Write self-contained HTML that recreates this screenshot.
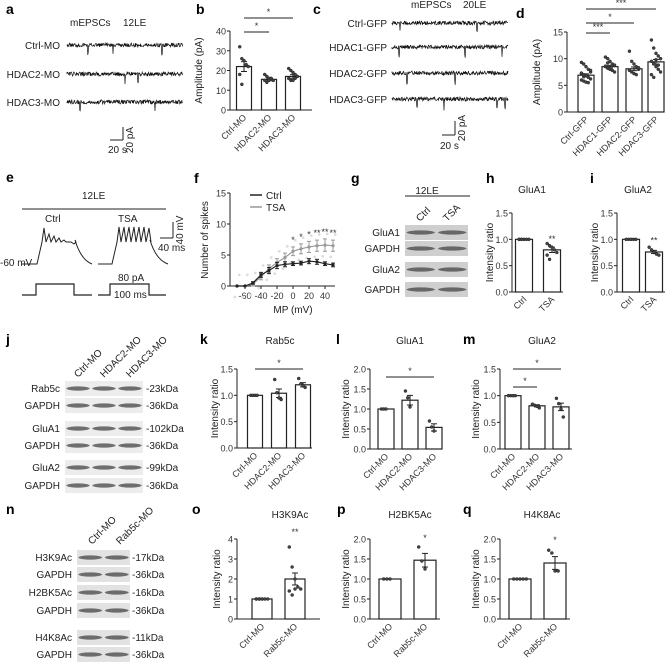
<!DOCTYPE html>
<html><head><meta charset="utf-8"><style>
body{margin:0;background:#fff}
svg{display:block;font-family:"Liberation Sans",Arial,sans-serif}
.pl{font-size:14px;font-weight:bold}
.t{font-size:10px;fill:#222}
.tk{font-size:9px;fill:#333}
</style></head><body>
<svg id="fig" width="667" height="663" viewBox="0 0 667 663"></svg>
<script>
// ---- chart data ----
const bCats=["Ctrl-MO","HDAC2-MO","HDAC3-MO"], bVals=[22,15.5,17], bErr=[2.5,0.7,0.9];
const bPts=[[32,26,25,23,22,18,13],[18,17,16,16,15,15,14,15,16],[21,20,19,18,17,16,15,15,16,17]];
const dCats=["Ctrl-GFP","HDAC1-GFP","HDAC2-GFP","HDAC3-GFP"], dVals=[6.9,8.5,8.1,9.4], dErr=[0.25,0.25,0.35,0.45];
const dPts=[[9.3,9,8.5,8,7.5,7.2,7,6.8,6.5,6.2,6,5.8,5.6,5.5,7.8,7.3,6.6],[10.3,10,9.5,9,8.8,8.5,8.2,8,7.8,7.5,8.6,9.2],[11.4,9.5,9,8.5,8,7.8,7.5,7.2,7,8.3],[13.5,12,11,10.5,10,9.5,9,8.5,8,7.5,7,6.5,9.8,8.8]];
const fX=[-70,-60,-50,-40,-30,-20,-10,0,10,20,30,40,50];
const fCtrl=[0,0,0.5,1.8,2.5,3.3,3.5,3.6,3.7,4.0,3.9,3.6,3.4];
const fCtrlErr=[0,0,0.2,0.4,0.5,0.5,0.4,0.3,0.3,0.4,0.4,0.3,0.3];
const fTSA=[0,0,0.3,1.5,2.8,3.8,4.6,5.6,6.0,6.3,6.5,6.6,6.5];
const fTSAErr=[0,0,0.3,0.5,0.6,0.6,0.7,0.7,0.8,0.9,0.9,1.0,0.9];
const fStars=["","","","","","","","*","*","*","**","**","**"];
const hCats=["Ctrl","TSA"], hVals=[1.0,0.8], hErr=[0,0.05], hPts=[[1,1,1,1,1,1,1],[0.92,0.88,0.85,0.8,0.75,0.7,0.62]];
const iCats=["Ctrl","TSA"], iVals=[1.0,0.76], iErr=[0,0.03], iPts=[[1,1,1,1,1],[0.85,0.8,0.76,0.72,0.7]];
const kCats=["Ctrl-MO","HDAC2-MO","HDAC3-MO"], kVals=[1.0,1.04,1.2], kErr=[0,0.08,0.04], kPts=[[1,1,1,1],[1.3,1.05,0.95,0.92],[1.32,1.22,1.18,1.15]];
const lCats=["Ctrl-MO","HDAC2-MO","HDAC3-MO"], lVals=[1.0,1.22,0.54], lErr=[0,0.12,0.09], lPts=[[1,1,1],[1.45,1.28,1.05],[0.7,0.55,0.45]];
const mCats=["Ctrl-MO","HDAC2-MO","HDAC3-MO"], mVals=[1.0,0.81,0.79], mErr=[0,0.02,0.07], mPts=[[1,1,1,1],[0.84,0.82,0.8,0.77],[0.95,0.85,0.75,0.6]];
const oCats=["Ctrl-MO","Rab5c-MO"], oVals=[1.0,2.0], oErr=[0,0.3], oPts=[[1,1,1,1,1,1,1,1],[3.6,2.6,2.0,1.6,1.5,1.4,1.2,1.5]];
const pCats=["Ctrl-MO","Rab5c-MO"], pVals=[1.0,1.47], pErr=[0,0.17], pPts=[[1,1,1],[1.8,1.45,1.25]];
const qCats=["Ctrl-MO","Rab5c-MO"], qVals=[1.0,1.4], qErr=[0,0.16], qPts=[[1,1,1,1,1],[1.72,1.65,1.2,1.2]];

const S=document.getElementById('fig'),NS="http://www.w3.org/2000/svg";
function el(tag,at,txt,parent){const e=document.createElementNS(NS,tag);for(const k in at)e.setAttribute(k,at[k]);if(txt!=null)e.textContent=txt;(parent||S).appendChild(e);return e;}
function txt(x,y,s,cls,name,extra){const e=el('text',Object.assign({x:x,y:y,class:cls},extra||{}),s);


return e;}
function line(x1,y1,x2,y2,w,c){return el('line',{x1,y1,x2,y2,stroke:c||'#222','stroke-width':w||1});}

function barChart(c){
  const g=el('g',{});
  
  
  const ys=v=>c.y0-(v/c.ymax)*(c.y0-c.ytop);
  el('line',{x1:c.ax,y1:c.ytop,x2:c.ax,y2:c.y0,stroke:'#222'},null,g);
  el('line',{x1:c.ax,y1:c.y0,x2:c.xend,y2:c.y0,stroke:'#222'},null,g);
  c.ticks.forEach(t=>{const y=ys(t);el('line',{x1:c.ax-3,y1:y,x2:c.ax,y2:y,stroke:'#222'},null,g);
    const tl=el('text',{x:c.ax-4,y:y+3.5,'text-anchor':'end',class:'tk'},c.fmt?t.toFixed(1):String(t),g);
    
    });
  c.vals.forEach((v,i)=>{const cx=c.centers[i],y=ys(v);
    const r=el('rect',{x:cx-c.bw/2,y:y,width:c.bw,height:c.y0-y,fill:'#fff',stroke:'#222','stroke-width':1.2},null,g);
    
    
    const e=c.errs[i];if(e>0){el('line',{x1:cx,y1:ys(v+e),x2:cx,y2:ys(v-e),stroke:'#222'},null,g);
      el('line',{x1:cx-3,y1:ys(v+e),x2:cx+3,y2:ys(v+e),stroke:'#222'},null,g);el('line',{x1:cx-3,y1:ys(v-e),x2:cx+3,y2:ys(v-e),stroke:'#222'},null,g);}
    const pts=c.pts[i];pts.forEach((p,j)=>{const off=((j%5)-2)*c.bw/7;
      const d=el('circle',{cx:cx+off,cy:ys(p),r:1.5,fill:'#444',stroke:'#222','stroke-width':0.5},null,g);
      
      });
    const lb=el('text',{x:cx+3,y:c.y0+8,'text-anchor':'end',class:'tk',transform:`rotate(-45 ${cx+3} ${c.y0+8})`},c.cats[i],g);
    
    
  });
  (c.sig||[]).forEach(s=>{const y=s[3];el('line',{x1:c.centers[s[0]],y1:y,x2:c.centers[s[1]],y2:y,stroke:'#222'},null,g);
    el('text',{x:(c.centers[s[0]]+c.centers[s[1]])/2,y:y-3,'text-anchor':'middle',class:'tk','font-size':'8'},s[2],g);});
  (c.stars||[]).forEach(s=>{el('text',{x:c.centers[s[0]],y:ys(s[1]),'text-anchor':'middle',class:'tk','font-size':'8'},s[2],g);});
  const yl=c.ylx-3, ym=(c.ytop+c.y0)/2;
  const yt=el('text',{x:yl,y:ym,'text-anchor':'middle',class:'t',transform:`rotate(-90 ${yl} ${ym})`},c.ylabel,g);
  
  
  if(c.title){const tt=el('text',{x:c.tx,y:c.ty,'text-anchor':'middle',class:'t'},c.title,g);
    
    }
}

// panel letters
[["a",6,14],["b",196,14],["c",313,14],["d",516,18],["e",6,182],["f",194,183],["g",351,183],["h",486,183],["i",590,183],["j",6,344],["k",200,344],["l",336,344],["m",463,344],["n",6,514],["o",192,514],["p",337,514],["q",463,514]].forEach(p=>{
  const t=txt(p[1],p[2],p[0],'pl','panel-label-'+p[0]);
});

// traces
function trace(x1,x2,y,seed,big,name){
  let d=`M${x1} ${y}`;let s=seed;
  for(let x=x1;x<=x2;x+=0.4){s=(s*9301+49297)%233280;let r=s/233280;let v=(r-0.5)*4;
    if(big.some(b=>Math.abs(b-x)<0.3))v=7+r*5; d+=` L${x.toFixed(1)} ${(y+v).toFixed(1)}`;}
  const p=el('path',{d:d,fill:'none',stroke:'#111','stroke-width':0.7});
  
  
}
txt(70,26,"mEPSCs",'t','trace-title-a');txt(123,26,"12LE",'t','trace-title-a-age');
[["Ctrl-MO",45,[88,113,162]],["HDAC2-MO",74,[125,138]],["HDAC3-MO",102,[80,155]]].forEach((r,i)=>{
  txt(60,r[1]+4,r[0],'t','trace-label',{'text-anchor':'end'});trace(67,183,r[1],i*17+5,r[2],'trace-'+r[0].toLowerCase());});
line(110,140,123,140);line(123,127,123,140);txt(108,153,"20 s",'t','scale-time');
txt(133,140,"20 pA",'t','scale-amplitude',{transform:'rotate(-90 133 140)','text-anchor':'middle'});

txt(411,8,"mEPSCs",'t','trace-title-c');txt(463,8,"20LE",'t','trace-title-c-age');
[["Ctrl-GFP",23,[400,477]],["HDAC1-GFP",47,[399,465,502]],["HDAC2-GFP",73,[407,455]],["HDAC3-GFP",99,[417,444,497,505]]].forEach((r,i)=>{
  txt(387,r[1]+4,r[0],'t','trace-label',{'text-anchor':'end'});trace(392,508,r[1],i*31+11,r[2],'trace-'+r[0].toLowerCase());});
line(442,135,455,135);line(455,121,455,135);txt(440,149,"20 s",'t','scale-time');
txt(465,128,"20 pA",'t','scale-amplitude',{transform:'rotate(-90 465 128)','text-anchor':'middle'});

barChart({name:'chart-b',ax:230,y0:110,ytop:31,ymax:40,ticks:[0,10,20,30,40],xend:312,centers:[244,269,293],bw:15,
  cats:bCats,vals:bVals,errs:bErr,pts:bPts,ylabel:"Amplitude (pA)",ylx:205,sig:[[0,1,"*",32],[0,2,"*",18]]});
barChart({name:'chart-d',ax:567,y0:112,ytop:32,ymax:15,ticks:[0,5,10,15],xend:664,centers:[586,610,634,656],bw:16,
  cats:dCats,vals:dVals,errs:dErr,pts:dPts,ylabel:"Amplitude (pA)",ylx:543,sig:[[0,1,"***",33],[0,2,"*",23],[0,3,"***",9]]});

// panel e
txt(82,199,"12LE",'t','condition-12le');line(22,209,166,209);
txt(45,222,"Ctrl",'t','trace-ctrl-label');txt(118,222,"TSA",'t','trace-tsa-label');
txt(0,266,"-60 mV",'t','resting-potential');
function ap(x0,x1,x2,x3,base,spk,name){let d=`M${x0} ${base} L${x1} ${base} L${x1+5} ${base-22}`;let x=x1+5;
  spk.forEach(h=>{d+=` L${x+2} ${base-h} L${x+4} ${base-22}`;x+=5;});
  d+=` L${x2} ${base-24} Q${x2+6} ${base-4} ${x3} ${base}`;
  const p=el('path',{d,fill:'none',stroke:'#222','stroke-width':1});
  
  }
ap(22,37,75,92,264,[36,30,28,26,24,22,20],'ap-trace-ctrl');
ap(98,112,150,168,264,[37,37,37,37,37,37,36],'ap-trace-tsa');
line(173,222,173,238);line(160,238,173,238);txt(158,251,"40 ms",'t','scale-ms');
txt(183,230,"40 mV",'t','scale-mv',{transform:'rotate(-90 183 230)','text-anchor':'middle'});
el('path',{d:'M22 295 L36 295 L36 284 L74 284 L74 295 L92 295',fill:'none',stroke:'#222','stroke-width':1.2});
el('path',{d:'M98 295 L110 295 L110 284 L149 284 L149 295 L166 295',fill:'none',stroke:'#222','stroke-width':1.2});
txt(118,281,"80 pA",'t','current-label');txt(114,298,"100 ms",'t','duration-label');

// panel f
(function(){
  const ax=230,y0=286,yt=193,xs=v=>293+v*0.8,ys=v=>y0-v/15*(y0-yt);
  line(ax,yt,ax,y0);line(ax,y0,335,y0);
  [0,5,10,15].forEach(t=>{line(ax-3,ys(t),ax,ys(t));txt(ax-4,ys(t)+3.5,String(t),'tk','y-tick-label',{'text-anchor':'end'});});
  [-60,-40,-20,0,20,40].forEach(t=>{line(xs(t),y0,xs(t),y0+3);txt(xs(t),y0+13,String(t),'tk','x-tick-label',{'text-anchor':'middle'});});
  txt(293,313,"MP (mV)",'t','x-axis-title',{'text-anchor':'middle'});
  txt(208,240,"Number of spikes",'t','y-axis-title',{transform:'rotate(-90 208 240)','text-anchor':'middle'});
  fX.forEach((x,i)=>{[-1.5,0,1.5].forEach(o=>{const c=el('circle',{cx:xs(x)+o*1.5,cy:ys(fTSA[i]+o*1.2),r:1.4,fill:'#ddd'});});});
  [[fTSA,fTSAErr,'#999','series-tsa'],[fCtrl,fCtrlErr,'#222','series-ctrl']].forEach(s=>{
    const p=el('path',{d:fX.map((x,i)=>(i?'L':'M')+xs(x)+' '+ys(s[0][i])).join(' '),fill:'none',stroke:s[2],'stroke-width':1.2});
    
    
    fX.forEach((x,i)=>{const v=s[0][i],e=s[1][i];line(xs(x),ys(v+e),xs(x),ys(v-e),1,s[2]);line(xs(x)-2,ys(v+e),xs(x)+2,ys(v+e),1,s[2]);line(xs(x)-2,ys(v-e),xs(x)+2,ys(v-e),1,s[2]);
      const m=el('circle',{cx:xs(x),cy:ys(v),r:1.6,fill:s[2]});});
  });
  fX.forEach((x,i)=>{if(fStars[i])txt(xs(x),ys(fTSA[i]+fTSAErr[i])-4,fStars[i],'tk','significance-star',{'text-anchor':'middle','font-size':'7'});});
  line(250,195,262,195,1.5,'#222');txt(266,199,"Ctrl",'t','legend-ctrl');
  line(250,207,262,207,1.5,'#999');txt(266,211,"TSA",'t','legend-tsa');
})();

// blots
function blot(x,y,w,h,names,nb,bg,dark){const g=el('g',{});
  
  
  el('rect',{x,y,width:w,height:h,fill:bg||'#e6e6e6'},null,g);
  for(let i=0;i<nb;i++){const cx=x+w*(i+0.5)/nb;el('ellipse',{cx,cy:y+h/2,rx:w/nb*0.45,ry:h*0.14,fill:'#444','fill-opacity':dark||0.75},null,g);}}
txt(427,194,"12LE",'t','blot-title',{'text-anchor':'middle'});line(405,196,470,196);
txt(420,222,"Ctrl",'t','lane-label',{transform:'rotate(-45 420 222)'});txt(447,222,"TSA",'t','lane-label',{transform:'rotate(-45 447 222)'});
[["GluA1",225],["GAPDH",241],["GluA2",262],["GAPDH",282]].forEach(r=>{blot(405,r[1],63,15,'blot-'+r[0].toLowerCase(),2,'#cfcfcf');txt(400,r[1]+11,r[0],'t','blot-label',{'text-anchor':'end'});});

barChart({name:'chart-h',ax:512,y0:292,ytop:213,ymax:1.5,fmt:1,ticks:[0,0.5,1,1.5],xend:563,centers:[524,552],bw:17,
  cats:hCats,vals:hVals,errs:hErr,pts:hPts,ylabel:"Intensity ratio",ylx:496,title:"GluA1",tx:532,ty:193,stars:[[1,0.95,"**"]]});
barChart({name:'chart-i',ax:617,y0:292,ytop:213,ymax:1.5,fmt:1,ticks:[0,0.5,1,1.5],xend:665,centers:[631,654],bw:17,
  cats:iCats,vals:iVals,errs:iErr,pts:iPts,ylabel:"Intensity ratio",ylx:601,title:"GluA2",tx:638,ty:193,stars:[[1,0.92,"**"]]});

// panel j
["Ctrl-MO","HDAC2-MO","HDAC3-MO"].forEach((s,i)=>{const x=78+i*26,y=378;txt(x,y,s,'t','lane-label',{transform:`rotate(-45 ${x} ${y})`});});
[["Rab5c",381,"-23kDa"],["GAPDH",398,"-36kDa"],["GluA1",421,"-102kDa"],["GAPDH",438,"-36kDa"],["GluA2",460,"-99kDa"],["GAPDH",478,"-36kDa"]].forEach(r=>{
  blot(65,r[1],78,15,'blot-'+r[0].toLowerCase(),3,'#ececec');txt(60,r[1]+11,r[0],'t','blot-label',{'text-anchor':'end'});txt(146,r[1]+11,r[2],'t','kda-label');});

barChart({name:'chart-k',ax:237,y0:448,ytop:369,ymax:1.5,fmt:1,ticks:[0,0.5,1,1.5],xend:312,centers:[255,279,303],bw:15,
  cats:kCats,vals:kVals,errs:kErr,pts:kPts,ylabel:"Intensity ratio",ylx:221,title:"Rab5c",tx:280,ty:344,sig:[[0,2,"*",369]]});
barChart({name:'chart-l',ax:370,y0:449,ytop:369,ymax:2,fmt:1,ticks:[0,0.5,1,1.5,2],xend:442,centers:[386,410,434],bw:16,
  cats:lCats,vals:lVals,errs:lErr,pts:lPts,ylabel:"Intensity ratio",ylx:352,title:"GluA1",tx:410,ty:344,sig:[[0,2,"*",377]]});
barChart({name:'chart-m',ax:500,y0:449,ytop:369,ymax:1.5,fmt:1,ticks:[0,0.5,1,1.5],xend:572,centers:[513,537,561],bw:16,
  cats:mCats,vals:mVals,errs:mErr,pts:mPts,ylabel:"Intensity ratio",ylx:482,title:"GluA2",tx:542,ty:344,sig:[[0,2,"*",369],[0,1,"*",387]]});

// panel n
["Ctrl-MO","Rab5c-MO"].forEach((s,i)=>{const x=92+i*28,y=545;txt(x,y,s,'t','lane-label',{transform:`rotate(-45 ${x} ${y})`});});
[["H3K9Ac",550,"-17kDa"],["GAPDH",567,"-36kDa"],["H2BK5Ac",585,"-16kDa"],["GAPDH",603,"-36kDa"],["H4K8Ac",630,"-11kDa"],["GAPDH",647,"-36kDa"]].forEach(r=>{
  blot(77,r[1],53,15,'blot-'+r[0].toLowerCase(),2,'#e2e2e2');txt(72,r[1]+11,r[0],'t','blot-label',{'text-anchor':'end'});txt(132,r[1]+11,r[2],'t','kda-label');});

barChart({name:'chart-o',ax:237,y0:619,ytop:539,ymax:4,ticks:[0,1,2,3,4],xend:320,centers:[262,295],bw:20,
  cats:oCats,vals:oVals,errs:oErr,pts:oPts,ylabel:"Intensity ratio",ylx:223,title:"H3K9Ac",tx:290,ty:518,stars:[[1,4.2,"**"]]});
barChart({name:'chart-p',ax:370,y0:619,ytop:539,ymax:2,fmt:1,ticks:[0,0.5,1,1.5,2],xend:440,centers:[390,425],bw:22,
  cats:pCats,vals:pVals,errs:pErr,pts:pPts,ylabel:"Intensity ratio",ylx:352,title:"H2BK5Ac",tx:410,ty:518,stars:[[1,1.95,"*"]]});
barChart({name:'chart-q',ax:500,y0:619,ytop:539,ymax:2,fmt:1,ticks:[0,0.5,1,1.5,2],xend:570,centers:[520,555],bw:22,
  cats:qCats,vals:qVals,errs:qErr,pts:qPts,ylabel:"Intensity ratio",ylx:482,title:"H4K8Ac",tx:542,ty:518,stars:[[1,1.9,"*"]]});
</script>
</body></html>
